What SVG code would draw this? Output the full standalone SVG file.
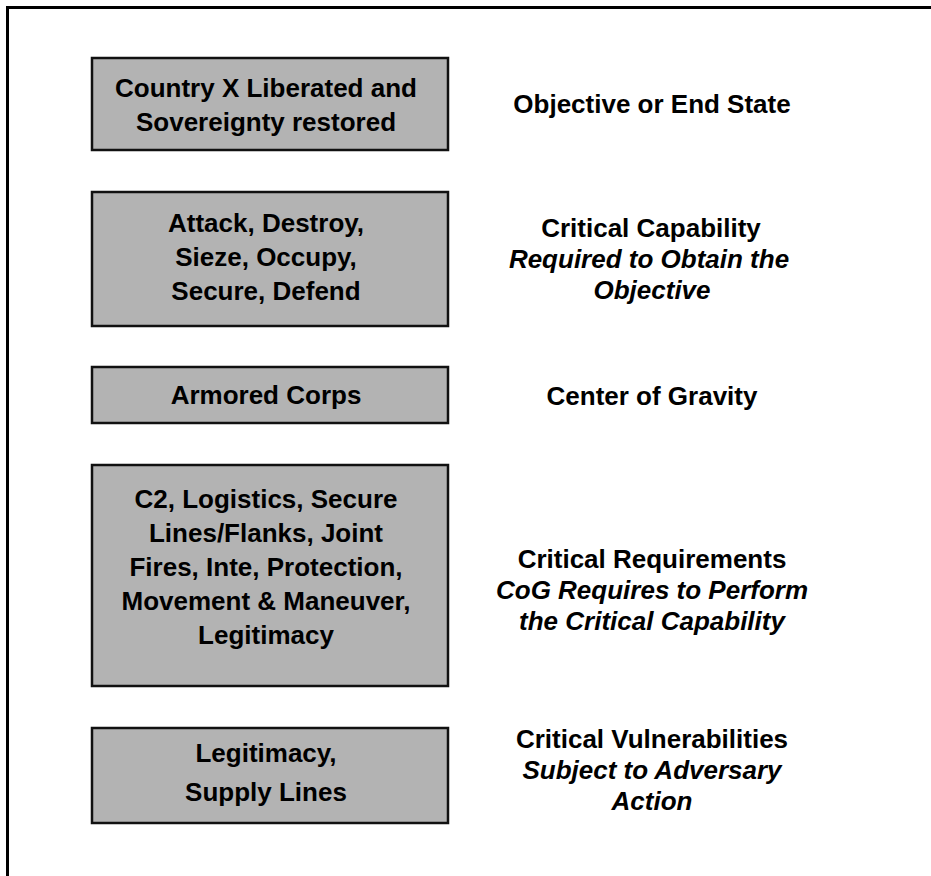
<svg xmlns="http://www.w3.org/2000/svg" width="931" height="876" viewBox="0 0 931 876">
<style>
.frame{fill:none;stroke:#000;stroke-width:3}
.box{fill:#b3b3b3;stroke:#111;stroke-width:2.5}
text{font-family:"Liberation Sans",Arial,sans-serif;font-size:26px;font-weight:bold;fill:#000;text-anchor:middle}
.i{font-style:italic}
</style>
<rect width="931" height="876" fill="#fff"/>
<rect class="frame" x="7.5" y="7.5" width="940" height="890"/>
<g id="box-objective">
<rect class="box" x="92" y="58" width="356" height="92"/>
<text x="266" y="97">Country X Liberated and</text>
<text x="266" y="131">Sovereignty restored</text>
</g>
<g id="label-objective">
<text x="652" y="113">Objective or End State</text>
</g>
<g id="box-capability">
<rect class="box" x="92" y="192" width="356" height="134"/>
<text x="266" y="232">Attack, Destroy,</text>
<text x="266" y="266">Sieze, Occupy,</text>
<text x="266" y="300">Secure, Defend</text>
</g>
<g id="label-capability">
<text x="651" y="237">Critical Capability</text>
<text x="649" y="268" class="i">Required to Obtain the</text>
<text x="652" y="299" class="i">Objective</text>
</g>
<g id="box-cog">
<rect class="box" x="92" y="367" width="356" height="56"/>
<text x="266" y="404">Armored Corps</text>
</g>
<g id="label-cog">
<text x="652" y="405">Center of Gravity</text>
</g>
<g id="box-requirements">
<rect class="box" x="92" y="465" width="356" height="221"/>
<text x="266" y="508">C2, Logistics, Secure</text>
<text x="266" y="542">Lines/Flanks, Joint</text>
<text x="266" y="576">Fires, Inte, Protection,</text>
<text x="266" y="610">Movement &amp; Maneuver,</text>
<text x="266" y="644">Legitimacy</text>
</g>
<g id="label-requirements">
<text x="652" y="568">Critical Requirements</text>
<text x="652" y="599" class="i">CoG Requires to Perform</text>
<text x="652" y="630" class="i">the Critical Capability</text>
</g>
<g id="box-vulnerabilities">
<rect class="box" x="92" y="728" width="356" height="95"/>
<text x="266" y="762">Legitimacy,</text>
<text x="266" y="801">Supply Lines</text>
</g>
<g id="label-vulnerabilities">
<text x="652" y="748">Critical Vulnerabilities</text>
<text x="652" y="779" class="i">Subject to Adversary</text>
<text x="652" y="810" class="i">Action</text>
</g>
<g id="connectors"></g>
</svg>
